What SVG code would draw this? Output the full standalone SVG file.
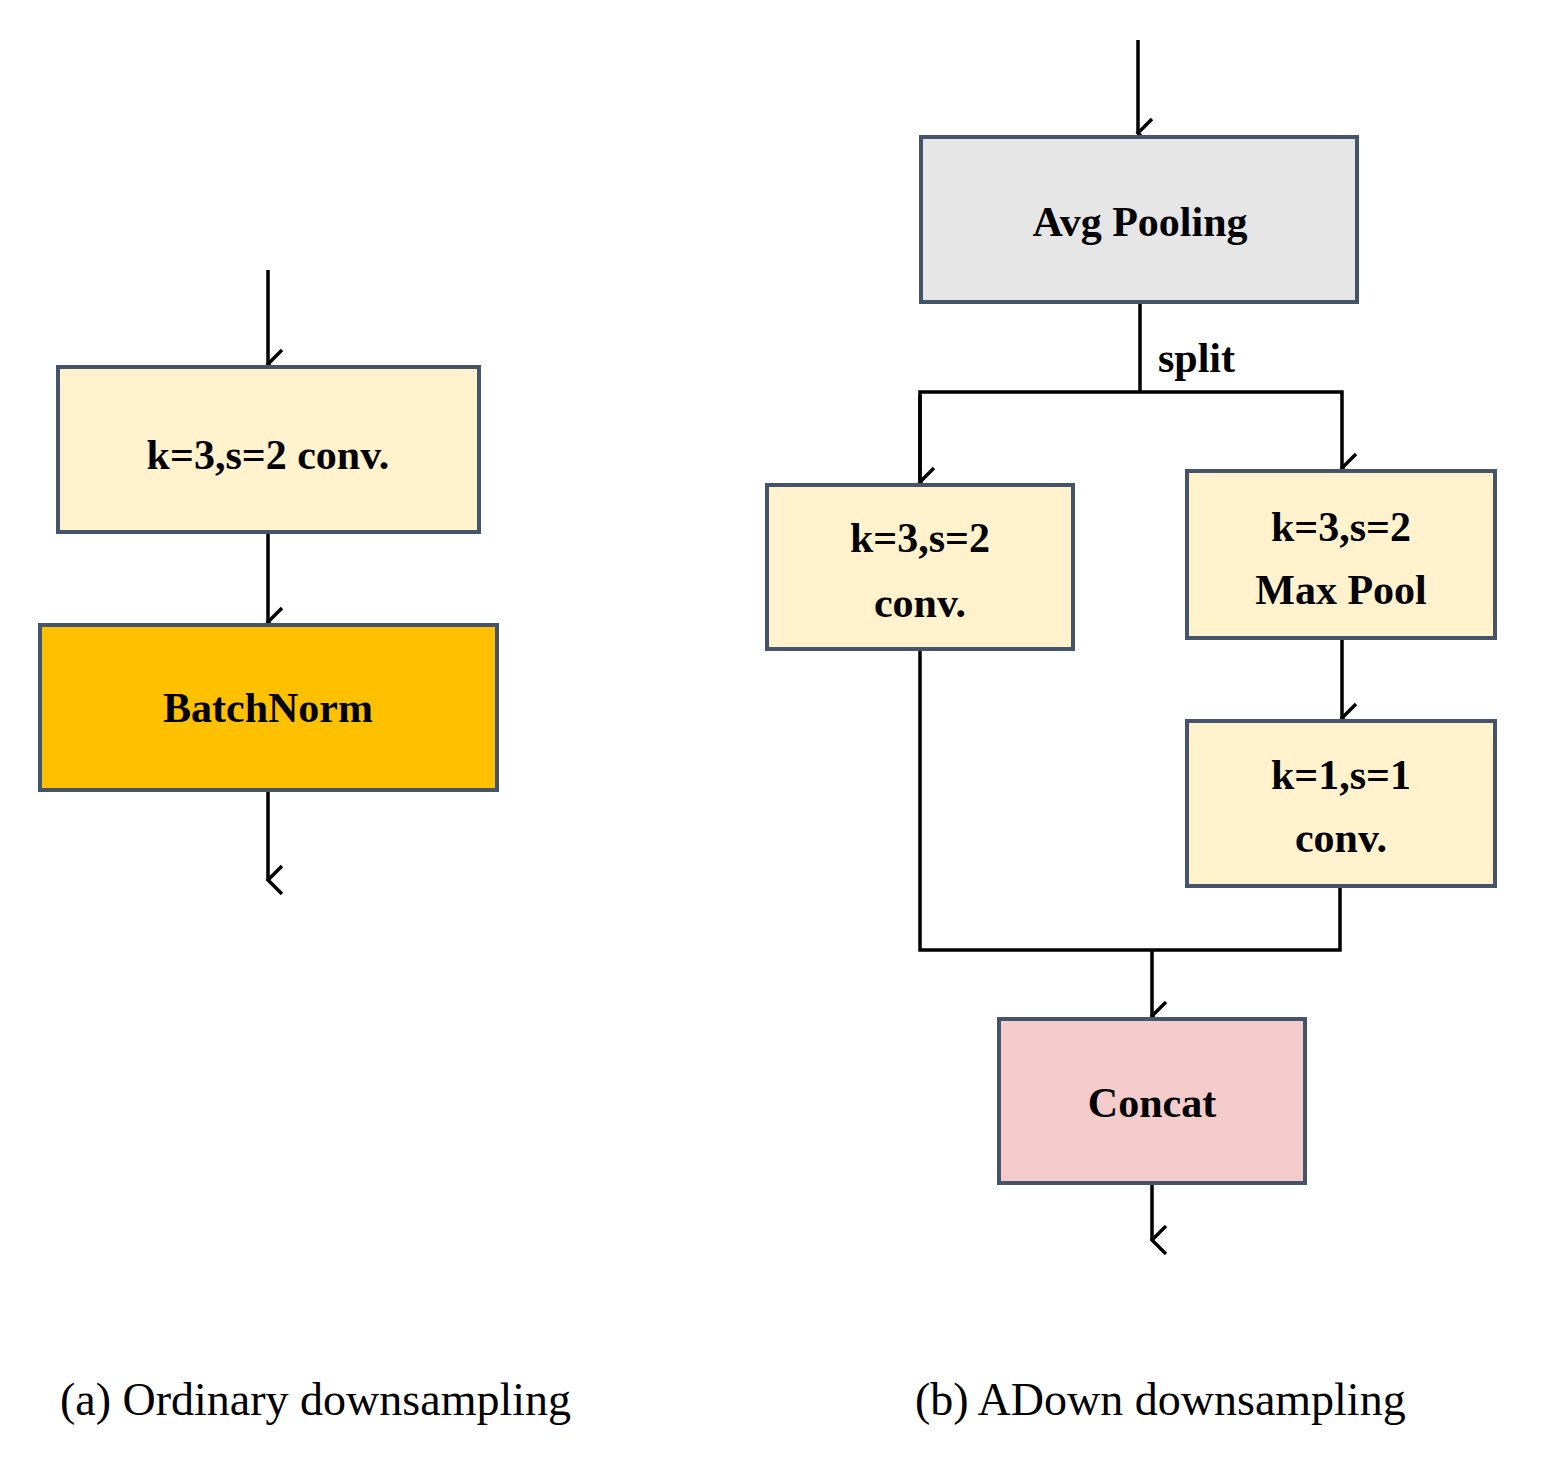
<svg xmlns="http://www.w3.org/2000/svg" width="1541" height="1460" viewBox="0 0 1541 1460">
<defs>
<marker id="ah" markerUnits="userSpaceOnUse" markerWidth="40" markerHeight="40" refX="20" refY="36" orient="auto" viewBox="0 0 40 40">
<polyline points="6,22 20,36 34,22" fill="none" stroke="#000" stroke-width="3.5"/>
</marker>
</defs>
<style>
.b{stroke:#44546A;stroke-width:4}
.t{font-family:"Liberation Serif",serif;font-weight:bold;font-size:42px;text-anchor:middle;fill:#000}
.c{font-family:"Liberation Serif",serif;font-size:46px;fill:#000}
.l{fill:none;stroke:#000;stroke-width:3.5}
</style>
<rect width="1541" height="1460" fill="#fff"/>
<g id="connectors">
<line class="l" x1="268" y1="270" x2="268" y2="364" marker-end="url(#ah)"/>
<line class="l" x1="268" y1="532" x2="268" y2="622" marker-end="url(#ah)"/>
<line class="l" x1="268" y1="790" x2="268" y2="880" marker-end="url(#ah)"/>
<line class="l" x1="1138" y1="40" x2="1138" y2="133" marker-end="url(#ah)"/>
<polyline class="l" points="1140,302 1140,392"/>
<polyline class="l" points="920,480 920,392 1342,392 1342,468" marker-start="none" marker-end="url(#ah)"/>
<line class="l" x1="920" y1="395" x2="920" y2="482" marker-end="url(#ah)"/>
<line class="l" x1="1342" y1="638" x2="1342" y2="718" marker-end="url(#ah)"/>
<polyline class="l" points="920,649 920,950 1340,950 1340,886"/>
<line class="l" x1="1152" y1="950" x2="1152" y2="1016" marker-end="url(#ah)"/>
<line class="l" x1="1152" y1="1183" x2="1152" y2="1240" marker-end="url(#ah)"/>
<text x="1158" y="372" class="t" style="text-anchor:start">split</text>
</g>
<g id="conv-a"><rect class="b" x="58" y="367" width="421" height="165" fill="#FFF2CC"/><text class="t" x="268" y="469">k=3,s=2 conv.</text></g>
<g id="batchnorm"><rect class="b" x="40" y="625" width="457" height="165" fill="#FFC000"/><text class="t" x="268" y="722">BatchNorm</text></g>
<g id="avgpool"><rect class="b" x="921" y="137" width="436" height="165" fill="#E7E6E6"/><text class="t" x="1140" y="236">Avg Pooling</text></g>
<g id="conv-b"><rect class="b" x="767" y="485" width="306" height="164" fill="#FFF2CC"/><text class="t" x="920" y="552">k=3,s=2</text><text class="t" x="920" y="617">conv.</text></g>
<g id="maxpool"><rect class="b" x="1187" y="471" width="308" height="167" fill="#FFF2CC"/><text class="t" x="1341" y="541">k=3,s=2</text><text class="t" x="1341" y="604">Max Pool</text></g>
<g id="conv-c"><rect class="b" x="1187" y="721" width="308" height="165" fill="#FFF2CC"/><text class="t" x="1341" y="789">k=1,s=1</text><text class="t" x="1341" y="852">conv.</text></g>
<g id="concat"><rect class="b" x="999" y="1019" width="306" height="164" fill="#F4CCCC"/><text class="t" x="1152" y="1117">Concat</text></g>
<text class="c" x="60" y="1415">(a) Ordinary downsampling</text>
<text class="c" x="915" y="1415">(b) ADown downsampling</text>
</svg>
